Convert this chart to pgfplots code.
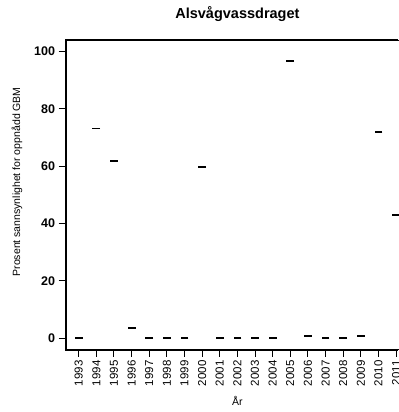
\documentclass[border=0pt]{standalone}
\usepackage{fontspec}
\setmainfont{Liberation Sans}
\usepackage{pgfplots}
\pgfplotsset{compat=1.18}
\begin{document}
\begin{tikzpicture}
\useasboundingbox (-66pt,-62.5pt) rectangle (332pt,349.4pt);
\fill[black] (-1.5pt,-1.5pt) rectangle (0.2pt,309.95pt);
\fill[black] (-1.5pt,-1.5pt) rectangle (331.5pt,0.2pt);
\fill[black] (-1.5pt,308.45pt) rectangle (331.5pt,309.95pt);
\draw[black, line width=1.4pt] (-0.5pt,309.2pt) -- (-0.5pt,-0.5pt) -- (331.5pt,-0.5pt);
\begin{axis}[
  name=ax,
  at={(0pt,0pt)}, anchor=south west,
  scale only axis,
  width=342.7pt, height=309.2pt,
  xmin=1992.28, xmax=2011.72,
  ymin=-4, ymax=104,
  axis line style={black, line width=1.4pt},
  tick pos=left,
  tick align=outside,
  major tick length=7.5pt,
  tick style={black, line width=1pt},
  xtick={1993,...,2011},
  ytick={0,20,40,60,80,100},
  /pgf/number format/assume math mode=true,
  xticklabel={\pgfmathprintnumber[1000 sep={}]{\tick}},
  xticklabel style={rotate=90, anchor=east, font=\fontsize{11.5}{11.5}\selectfont},
  yticklabel style={font=\bfseries\fontsize{12.5}{12.5}\selectfont},
  title={Alsvågvassdraget},
  xlabel={År},
  ylabel={Prosent sannsynlighet for oppnådd GBM},
  every axis title/.style={at={(rel axis cs:0.5,1)}, yshift=26pt, anchor=center, font=\bfseries\fontsize{14.5}{14.5}\selectfont},
  every axis x label/.style={at={(rel axis cs:0.5,0)}, yshift=-51.5pt, anchor=center, font=\fontsize{10.5}{10.5}\selectfont},
  every axis y label/.style={at={(rel axis cs:0,0.5)}, xshift=-49pt, yshift=13pt, rotate=90, anchor=center, font=\fontsize{10.5}{10.5}\selectfont},
]
\addplot[only marks, mark=-, mark size=3.9pt, mark options={line width=1.8pt, line cap=butt}] coordinates {
  (1993,0) (1994,73.2) (1995,61.8) (1996,3.4) (1997,0) (1998,0) (1999,0)
  (2000,59.8) (2001,0) (2002,0) (2003,0) (2004,0) (2005,96.8) (2006,0.6)
  (2007,0) (2008,0) (2009,0.8) (2010,71.9) (2011,42.9)
};
\end{axis}
\end{tikzpicture}
\end{document}
